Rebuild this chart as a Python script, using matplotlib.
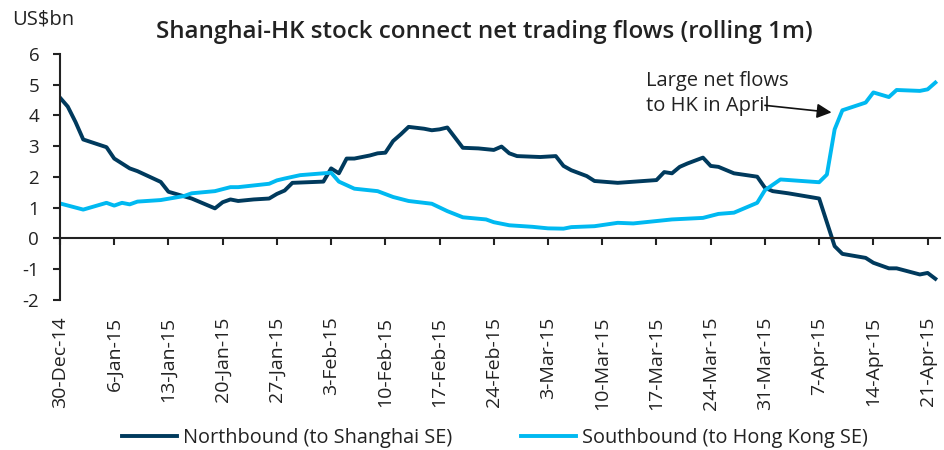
import numpy as np
import pandas as pd
import matplotlib
matplotlib.use("Agg")
import matplotlib.pyplot as plt

plt.rcParams['font.family'] = ['Open Sans', 'DejaVu Sans']

start = pd.Timestamp('2014-12-30')

# day offsets from 30-Dec-14 and values (US$bn)
north_days = [0, 1, 2, 3, 6, 7, 9, 10, 13, 14, 17, 20, 21, 22, 23, 25, 27, 28, 29, 30,
              34, 35, 36, 37, 38, 40, 41, 42, 43, 44, 45, 47, 48, 49, 50, 51, 52, 54,
              56, 57, 58, 59, 62, 64, 65, 66, 68, 69, 72, 77, 78, 79, 80, 81, 83, 84,
              85, 87, 90, 91, 92, 94, 98, 100, 101, 104, 105, 106, 107, 108, 111, 112, 113]
north_vals = [4.58, 4.29, 3.79, 3.22, 2.97, 2.60, 2.28, 2.19, 1.84, 1.52, 1.30, 0.98, 1.18,
              1.27, 1.22, 1.27, 1.30, 1.45, 1.56, 1.81, 1.85, 2.28, 2.12, 2.60, 2.60, 2.70,
              2.77, 2.79, 3.17, 3.39, 3.63, 3.57, 3.52, 3.55, 3.61, 3.28, 2.95, 2.93, 2.88,
              2.99, 2.77, 2.68, 2.65, 2.68, 2.36, 2.22, 2.03, 1.87, 1.81, 1.90, 2.16, 2.12,
              2.33, 2.44, 2.63, 2.36, 2.33, 2.12, 2.01, 1.65, 1.54, 1.47, 1.30, -0.25, -0.50,
              -0.63, -0.79, -0.88, -0.97, -0.97, -1.17, -1.12, -1.31]

south_days = [0, 3, 6, 7, 8, 9, 10, 13, 16, 17, 20, 22, 23, 27, 28, 29, 31, 34, 35, 36, 38,
              41, 43, 45, 48, 50, 52, 55, 56, 58, 61, 63, 65, 66, 69, 72, 74, 79, 83, 85, 87,
              90, 91, 93, 98, 99, 100, 101, 104, 105, 107, 108, 111, 112, 113]
south_vals = [1.14, 0.94, 1.16, 1.07, 1.16, 1.11, 1.20, 1.25, 1.38, 1.47, 1.54, 1.67, 1.67,
              1.78, 1.89, 1.95, 2.06, 2.12, 2.14, 1.85, 1.62, 1.54, 1.35, 1.22, 1.13, 0.89,
              0.69, 0.62, 0.53, 0.43, 0.38, 0.33, 0.32, 0.37, 0.40, 0.51, 0.49, 0.62, 0.67,
              0.80, 0.84, 1.16, 1.57, 1.92, 1.83, 2.08, 3.55, 4.17, 4.42, 4.75, 4.60, 4.83,
              4.80, 4.85, 5.07]

tick_days = list(range(0, 113, 7))
tick_labels = [(start + pd.Timedelta(days=d)).strftime('%d-%b-%y').lstrip('0') for d in tick_days]

dark = '#003a5d'
light = '#00b9f1'
txt = '#222222'

fig = plt.figure(figsize=(9.45, 4.5), dpi=100)
ax = fig.add_axes([60 / 945, 1 - 300 / 450, 880 / 945, 246 / 450])

ax.plot(north_days, north_vals, color=dark, lw=2.8, solid_joinstyle='round',
        label='Northbound (to Shanghai SE)')
ax.plot(south_days, south_vals, color=light, lw=2.8, solid_joinstyle='round',
        label='Southbound (to Hong Kong SE)')

ax.set_xlim(0, 113.6)
ax.set_ylim(-2, 6)
ax.set_yticks(range(-2, 7))
ax.set_yticklabels([str(v) for v in range(-2, 7)])
ax.tick_params(axis='y', direction='out', length=5, width=1.5, color=txt,
               labelsize=13.5, labelcolor=txt, pad=10)

for s in ['top', 'right']:
    ax.spines[s].set_visible(False)
ax.spines['left'].set_linewidth(1.5)
ax.spines['left'].set_color(txt)
ax.spines['bottom'].set_position(('data', 0))
ax.spines['bottom'].set_linewidth(1.5)
ax.spines['bottom'].set_color(txt)

ax.set_xticks(tick_days)
ax.tick_params(axis='x', direction='out', length=5, width=1.5, color=txt,
               labelbottom=False)

sec = ax.secondary_xaxis(0.0)
sec.spines['bottom'].set_visible(False)
sec.set_xticks(tick_days)
sec.set_xticklabels(tick_labels, rotation=90)
sec.tick_params(length=0, pad=12, labelsize=14, labelcolor=txt)

fig.text(12 / 945, 1 - 19 / 450, 'US$bn', fontsize=14.5, color=txt, va='center')
fig.text(484 / 945, 1 - 32 / 450, 'Shanghai-HK stock connect net trading flows (rolling 1m)',
         fontsize=17.4, fontweight='semibold', color=txt, ha='center', va='center')

ax.text(75.6, 3.99, 'Large net flows\nto HK in April', fontsize=14.5, color=txt,
        ha='left', va='bottom', linespacing=1.35)
ax.annotate('', xy=(99.6, 4.1), xytext=(91.0, 4.33),
            arrowprops=dict(arrowstyle='-|>', color='#111111', lw=1.2,
                            mutation_scale=22, shrinkA=0, shrinkB=0))

fig.legend(loc='center', bbox_to_anchor=(495 / 945, 1 - 438 / 450), ncol=2,
           frameon=False, fontsize=14.3, handlelength=2.75, handletextpad=0.3,
           columnspacing=3.5, labelcolor=txt)

fig.savefig('out.png', dpi=100)
